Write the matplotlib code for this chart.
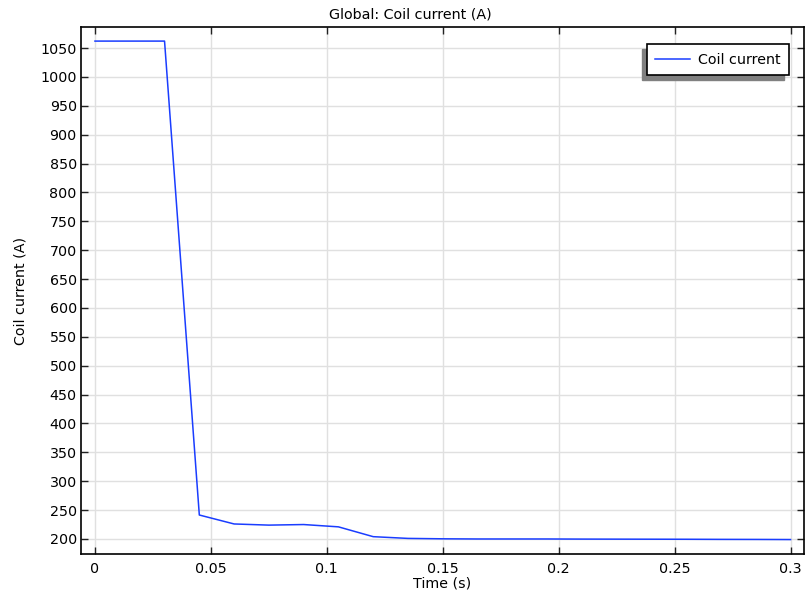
import numpy as np
import matplotlib.pyplot as plt
from matplotlib.patches import Rectangle

time = [0, 0.015, 0.03, 0.045, 0.06, 0.075, 0.09, 0.105, 0.12, 0.135, 0.15,
        0.165, 0.18, 0.195, 0.21, 0.225, 0.24, 0.255, 0.27, 0.285, 0.3]
current = [1062, 1062, 1062, 241.5, 226, 224, 225, 221, 204, 201, 200.3,
           200, 200, 200, 199.8, 199.7, 199.6, 199.5, 199.3, 199.2, 199]

xticks = [0, 0.05, 0.1, 0.15, 0.2, 0.25, 0.3]
xticklabels = ['0', '0.05', '0.1', '0.15', '0.2', '0.25', '0.3']
yticks = list(range(200, 1051, 50))

fs = 10.25
plt.rcParams['font.family'] = 'DejaVu Sans'
fig = plt.figure(figsize=(8.05, 5.93), dpi=100)
ax = fig.add_axes([81/805, 39/593, (804-81)/805, (554-27)/593])

ax.plot(time, current, color='#1a3dff', lw=1.1, label='Coil current')

ax.set_xlim(-0.00603, 0.3058)
ax.set_ylim(174.0, 1086.4)
ax.set_xticks(xticks)
ax.set_xticklabels(xticklabels)
ax.set_yticks(yticks)
ax.grid(True, color='#e0e0e0', lw=1)
ax.set_axisbelow(True)
ax.tick_params(direction='in', top=True, right=True, length=5, width=1,
               labelsize=fs, color='#222222')
ax.tick_params(axis='x', pad=6)
ax.tick_params(axis='y', pad=3)
for s in ax.spines.values():
    s.set_linewidth(1.2)

fig.text(410/805, 1 - 14/593, 'Global: Coil current (A)', fontsize=fs,
         ha='center', va='center')
ax.set_xlabel('Time (s)', fontsize=fs, labelpad=0)
ax.set_ylabel('Coil current (A)', fontsize=fs, labelpad=9)

leg = ax.legend(loc='upper right', fontsize=fs, fancybox=False, framealpha=1,
                edgecolor='black', borderpad=0.6, handlelength=2.45,
                handletextpad=0.55, borderaxespad=0,
                bbox_to_anchor=(1 - 15/723, 1 - 17/527))
leg.get_frame().set_linewidth(1.2)
leg.set_zorder(6)

fig.canvas.draw()
bb = leg.get_window_extent()
ax.add_patch(Rectangle((bb.x0 - 5, bb.y0 - 5), bb.width, bb.height,
                       transform=None, color='#808080', zorder=5.5, clip_on=False))

fig.savefig('out.png', dpi=100)
